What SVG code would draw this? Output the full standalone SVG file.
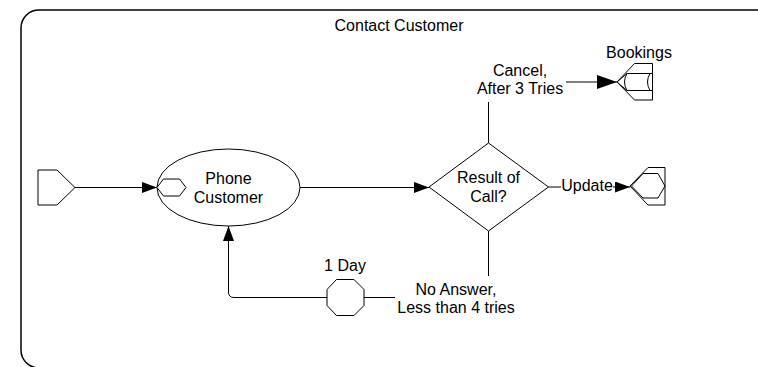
<svg xmlns="http://www.w3.org/2000/svg" width="758" height="367" viewBox="0 0 758 367">
<style>
.s{fill:#fff;stroke:#000;stroke-width:1}
.n{fill:none;stroke:#000;stroke-width:1}
.c{fill:none;stroke:#000;stroke-width:1}
text{font-family:"Liberation Sans",Arial,sans-serif;font-size:16px;fill:#000;text-anchor:middle}
</style>
<defs>
<marker id="a" markerUnits="userSpaceOnUse" markerWidth="16" markerHeight="12" refX="15" refY="5.5" orient="auto">
<path d="M0,0 L15,5.5 L0,11 Z" fill="#000"/>
</marker>
<marker id="b" markerUnits="userSpaceOnUse" markerWidth="21" markerHeight="15" refX="20" refY="7" orient="auto">
<path d="M0,0 L20,7 L0,14 Z" fill="#000"/>
</marker>
</defs>
<g id="frame">
<rect x="21" y="10" width="800" height="358" rx="18" ry="18" fill="none" stroke="#000" stroke-width="1.5"/>
<text x="399" y="31">Contact Customer</text>
</g>
<g id="connectors">
<path class="c" d="M75,187.5 H157" marker-end="url(#a)"/>
<path class="c" d="M300,187.5 H429" marker-end="url(#a)"/>
<path class="c" d="M488.5,143 V102"/>
<path class="c" d="M566,82 H617" marker-end="url(#b)"/>
<path class="c" d="M548.5,187 H561"/>
<path class="c" d="M613,187 H630" marker-end="url(#a)"/>
<path class="c" d="M488.5,231 V276"/>
<path class="c" d="M395,297.5 H364"/>
<path class="c" d="M327,297.5 H234 Q228.5,297.5 228.5,292 V226" marker-end="url(#a)"/>
</g>
<g id="start">
<polygon class="s" points="38,170 57,170 75,187.5 57,205 38,205"/>
</g>
<g id="phone-customer">
<ellipse class="s" cx="228.5" cy="187.5" rx="71.5" ry="38.5"/>
<polygon class="s" points="157,187.5 163.5,179 179.5,179 186,187.5 179.5,196 163.5,196"/>
<text x="228.5" y="183.5">Phone</text>
<text x="228.5" y="202.5">Customer</text>
</g>
<g id="result-of-call">
<polygon class="s" points="429,187 488.5,143 548.5,187 488.5,231"/>
<text x="488.5" y="183">Result of</text>
<text x="488.5" y="202">Call?</text>
</g>
<g id="label-cancel">
<text x="520" y="76">Cancel,</text>
<text x="520" y="94">After 3 Tries</text>
</g>
<g id="bookings">
<polygon class="s" points="617,82 634.5,63.5 652.5,63.5 652.5,100 634.5,100"/>
<path class="n" d="M617,82 L627,73.5 H652.5 M617,82 L627,90.5 H652.5 M627,73.5 Q622,82 627,90.5 M650,73.5 Q645,82 650,90.5"/>
<text x="639" y="58">Bookings</text>
</g>
<g id="label-update">
<text x="587" y="190.5">Update</text>
</g>
<g id="update">
<polygon class="s" points="630,186 648,167.5 665,167.5 665,205 648,205"/>
<polygon class="n" points="631.5,186 643,173.5 658,173.5 665,186 658,198 643,198"/>
</g>
<g id="label-no-answer">
<text x="456" y="294.5">No Answer,</text>
<text x="456" y="312.5">Less than 4 tries</text>
</g>
<g id="delay">
<polygon class="s" points="336.5,279.5 354,279.5 364,289.5 364,305.5 354,315.5 336.5,315.5 327,305.5 327,289.5"/>
<text x="345" y="270.5">1 Day</text>
</g>
</svg>
